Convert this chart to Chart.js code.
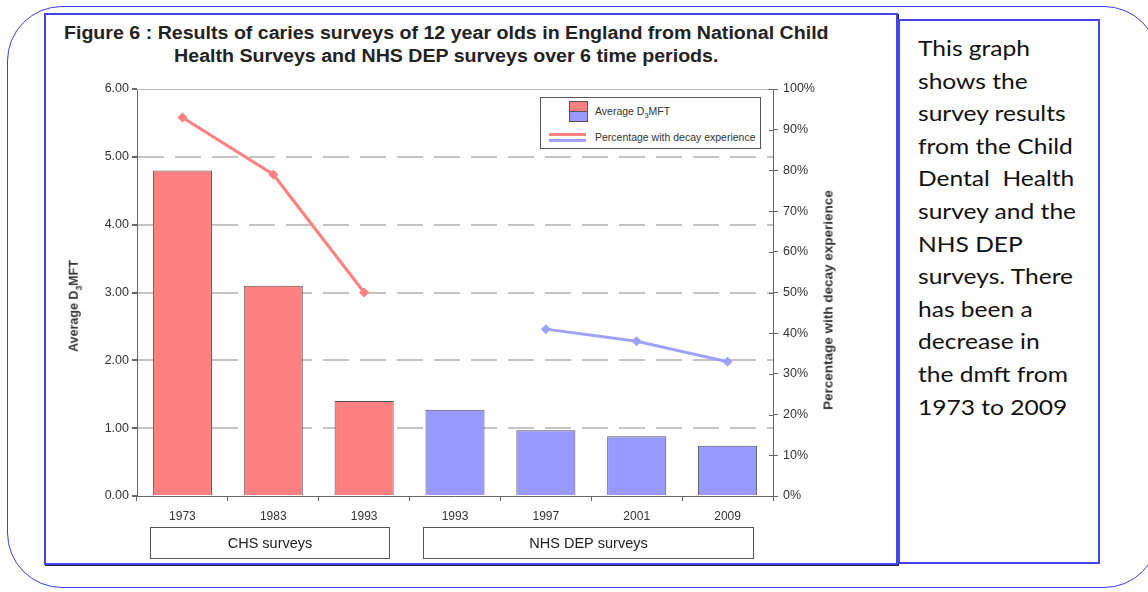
<!DOCTYPE html>
<html>
<head>
<meta charset="utf-8">
<script src="https://cdn.jsdelivr.net/npm/chart.js@4"></script>
<style>
    body { margin: 0; width: 1148px; height: 592px; background: #fff; position: relative; overflow: hidden; font-family: "Liberation Sans", Arial, sans-serif; }
    .outer { position: absolute; left: 7px; top: 6px; width: 1150px; height: 580px; border: 1.5px solid #3b3bf2; border-radius: 55px; }
    .figure { position: absolute; left: 44px; top: 13px; width: 850px; height: 548px; border: 2px solid #4444ee; box-shadow: 1px 1px 0 #223; background: #fff; }
    .title { position: absolute; left: 44px; top: 22px; width: 815px; text-align: center; font-weight: bold; font-size: 17.5px; line-height: 23px; color: #222; transform: scaleX(1.12); transform-origin: 451px 0; }
    .axis-title { position: absolute; font-weight: bold; color: #333; white-space: nowrap; transform: translate(-50%, -50%) rotate(-90deg); }
    .legend { position: absolute; left: 540px; top: 97px; width: 219px; height: 50px; border: 1px solid #555; background: #fff; font-size: 10.5px; color: #333; }
    .legend .sw { position: absolute; left: 28px; width: 17px; height: 9px; border: 1px solid #555; }
    .legend .ln { position: absolute; left: 8px; width: 37px; height: 3px; }
    .legend .lbl { position: absolute; left: 54px; white-space: nowrap; }
    .note { position: absolute; left: 898px; top: 19px; width: 198px; height: 541px; border: 2px solid #4444ee; }
    .note p { margin: 0; position: absolute; left: 18px; top: 11px; font-family: Lato, "Open Sans", sans-serif; font-size: 21px; line-height: 32.6px; color: #111; white-space: nowrap; transform: scaleX(1.17); transform-origin: 0 0; }
    #chart { position: absolute; left: 46px; top: 75px; }
</style>
</head>
<body>
<div class="outer"></div>
<div class="figure"></div>
<div class="title">Figure 6 : Results of caries surveys of 12 year olds in England from National Child<br>Health Surveys and NHS DEP surveys over 6 time periods.</div>
<canvas id="chart" width="850" height="488"></canvas>
<div class="axis-title" style="left:75px; top:306px; font-size:12.5px;">Average D<sub style="font-size:8.5px">3</sub>MFT</div>
<div class="axis-title" style="left:828px; top:300px; font-size:13.5px;">Percentage with decay experience</div>
<div class="legend">
    <div class="sw" style="top:3px; background:#ff8080;"></div>
    <div class="sw" style="top:13px; background:#9999ff;"></div>
    <div class="lbl" style="top:7px;">Average D<sub style="font-size:7.5px">3</sub>MFT</div>
    <div class="ln" style="top:35px; background:#ff8080;"></div>
    <div class="ln" style="top:41px; background:#a0a0ff;"></div>
    <div class="lbl" style="top:33px;">Percentage with decay experience</div>
</div>
<div class="note"><p>This graph<br>shows the<br>survey results<br>from the Child<br>Dental&nbsp; Health<br>survey and the<br>NHS DEP<br>surveys. There<br>has been a<br>decrease in<br>the dmft from<br>1973 to 2009</p></div>

<script>
// survey years (CHS surveys first, then NHS DEP surveys)
const years = ['1973', '1983', '1993', '1993', '1997', '2001', '2009'];
const surveyType = ['CHS', 'CHS', 'CHS', 'DEP', 'DEP', 'DEP', 'DEP'];

// average D3MFT per survey
const avgDmft = [4.8, 3.1, 1.4, 1.27, 0.97, 0.88, 0.74];

// percentage with decay experience (no value for the 1993 DEP survey)
const pctChs = [93, 79, 50, null, null, null, null];
const pctDep = [null, null, null, null, 41, 38, 33];

const groups = [
    { label: 'CHS surveys', from: 0, to: 2 },
    { label: 'NHS DEP surveys', from: 3, to: 6 }
];

const RED = '#ff8080';
const BLUE = '#9999ff';

// draws the solid top frame, the inward ticks on the right axis and the survey group boxes
const extras = {
    id: 'extras',
    afterDraw(chart) {
        const ctx = chart.ctx;
        const area = chart.chartArea;
        const x = chart.scales.x;
        const y1 = chart.scales.y1;
        ctx.save();
        ctx.strokeStyle = '#bbb';
        ctx.lineWidth = 1;
        ctx.beginPath();
        ctx.moveTo(area.left, area.top + 0.5);
        ctx.lineTo(area.right, area.top + 0.5);
        ctx.stroke();

        ctx.strokeStyle = '#666';
        y1.ticks.forEach((t, i) => {
            const py = Math.round(y1.getPixelForTick(i)) + 0.5;
            ctx.beginPath();
            ctx.moveTo(area.right - 4, py);
            ctx.lineTo(area.right, py);
            ctx.stroke();
        });

        ctx.font = '14.5px "Liberation Sans", Arial, sans-serif';
        ctx.textAlign = 'center';
        ctx.textBaseline = 'middle';
        groups.forEach(g => {
            const l = Math.round(x.getPixelForValue(g.from) - 32) + 0.5;
            const r = Math.round(x.getPixelForValue(g.to) + 25) + 0.5;
            const top = area.bottom + 31.5;
            ctx.fillStyle = '#fff';
            ctx.fillRect(l, top, r - l, 31);
            ctx.strokeStyle = '#555';
            ctx.strokeRect(l, top, r - l, 31);
            ctx.fillStyle = '#222';
            ctx.fillText(g.label, (l + r) / 2, top + 16);
        });
        ctx.restore();
    }
};

new Chart(document.getElementById('chart'), {
    type: 'bar',
    data: {
        labels: years,
        datasets: [
            {
                type: 'line',
                data: pctChs,
                yAxisID: 'y1',
                borderColor: RED,
                backgroundColor: RED,
                borderWidth: 3,
                pointStyle: 'rectRot',
                pointRadius: 5,
                pointBorderWidth: 0,
                order: 1
            },
            {
                type: 'line',
                data: pctDep,
                yAxisID: 'y1',
                borderColor: '#a0a0ff',
                backgroundColor: '#a0a0ff',
                borderWidth: 3,
                pointStyle: 'rectRot',
                pointRadius: 5,
                pointBorderWidth: 0,
                order: 1
            },
            {
                data: avgDmft,
                yAxisID: 'y',
                backgroundColor: surveyType.map(s => s === 'CHS' ? RED : BLUE),
                borderColor: '#555',
                borderWidth: 1,
                categoryPercentage: 1,
                barPercentage: 0.65,
                order: 2
            }
        ]
    },
    options: {
        responsive: false,
        animation: false,
        devicePixelRatio: 1,
        layout: { padding: { top: 14, left: 0, right: 0, bottom: 0 } },
        plugins: {
            legend: { display: false },
            tooltip: { enabled: false }
        },
        scales: {
            x: {
                grid: { drawOnChartArea: false, offset: true, tickLength: 5, tickColor: '#666' },
                border: { color: '#666' },
                ticks: { color: '#333', font: { family: '"Liberation Sans", Arial', size: 12 }, padding: 8 },
                afterFit(scale) { scale.height = 67; }
            },
            y: {
                position: 'left',
                min: 0,
                max: 6,
                ticks: {
                    stepSize: 1,
                    color: '#333',
                    font: { family: '"Liberation Sans", Arial', size: 12.5 },
                    padding: 3,
                    callback: v => v.toFixed(2)
                },
                grid: {
                    color: ctx => (ctx.tick && (ctx.tick.value === 0 || ctx.tick.value === 6)) ? 'rgba(0,0,0,0)' : '#c4c4c4',
                    lineWidth: 2,
                    tickColor: '#666',
                    tickLength: 5
                },
                border: { color: '#666', dash: [26, 11] },
                afterFit(scale) { scale.width = 91; }
            },
            y1: {
                position: 'right',
                min: 0,
                max: 100,
                ticks: {
                    stepSize: 10,
                    color: '#333',
                    font: { family: '"Liberation Sans", Arial', size: 12.5 },
                    padding: 5,
                    callback: v => v + '%'
                },
                grid: { drawOnChartArea: false, tickColor: '#666', tickLength: 5 },
                border: { color: '#666' },
                afterFit(scale) { scale.width = 123; }
            }
        }
    },
    plugins: [extras]
});
</script>
</body>
</html>
